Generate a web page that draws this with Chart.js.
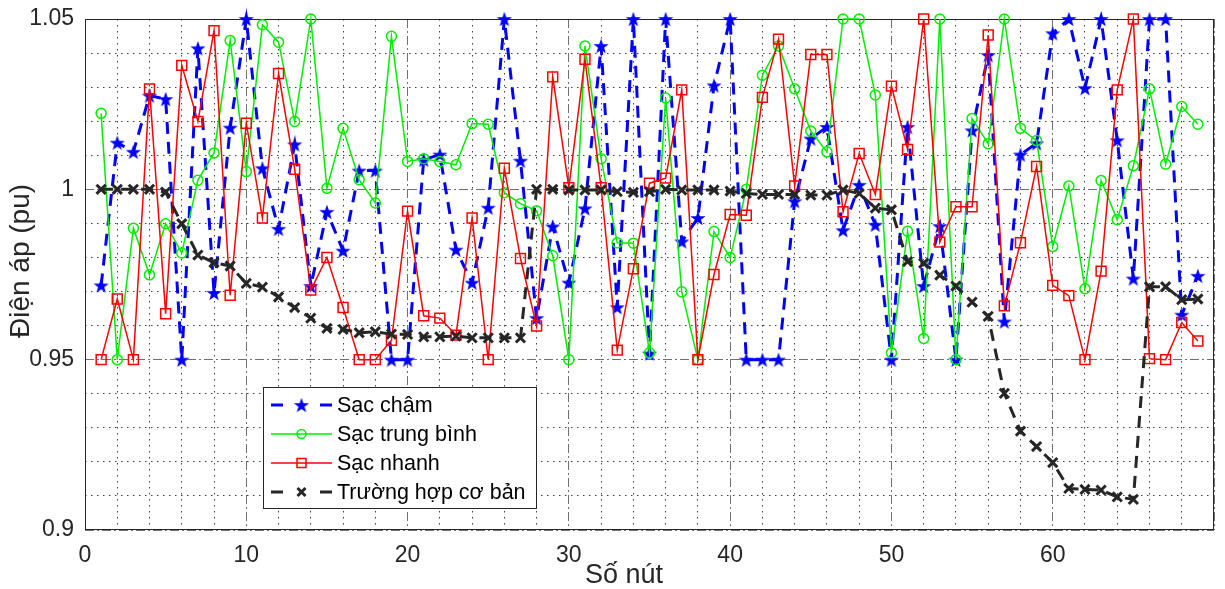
<!DOCTYPE html>
<html>
<head>
<meta charset="utf-8">
<script src="https://cdn.jsdelivr.net/npm/chart.js@4.4.1/dist/chart.umd.min.js"></script>
<style>
html,body{margin:0;padding:0;background:#fff;}
canvas{display:block;}
</style>
</head>
<body>
<canvas id="c" width="1225" height="589"></canvas>
<script>
// ---------- DATA ----------
const nodes = [1,2,3,4,5,6,7,8,9,10,11,12,13,14,15,16,17,18,19,20,21,22,23,24,25,26,27,28,29,30,31,32,33,34,35,36,37,38,39,40,41,42,43,44,45,46,47,48,49,50,51,52,53,54,55,56,57,58,59,60,61,62,63,64,65,66,67,68,69];

const sacCham = [0.9718,1.0137,1.0110,1.0275,1.0265,0.9500,1.0414,0.9696,1.0181,1.0500,
1.0062,0.9884,1.0132,0.9716,0.9934,0.9820,1.0055,1.0055,0.9500,0.9500,
1.0087,1.0102,0.9823,0.9726,0.9946,1.0500,1.0084,0.9622,0.9891,0.9726,
0.9944,1.0421,0.9654,1.0500,0.9518,1.0500,0.9847,0.9916,1.0305,1.0500,
0.9500,0.9500,0.9500,0.9965,1.0149,1.0183,0.9880,1.0013,0.9896,0.9500,
1.0183,0.9716,0.9892,0.9500,1.0173,1.0394,0.9612,1.0102,1.0135,1.0458,
1.0500,1.0297,1.0500,1.0144,0.9738,1.0500,1.0500,0.9632,0.9746];

const sacTrungBinh = [1.0223,0.9500,0.9886,0.9749,0.9899,0.9813,1.0027,1.0107,1.0437,1.0052,
1.0483,1.0432,1.0199,1.0500,1.0003,1.0179,1.0028,0.9960,1.0449,1.0082,
1.0090,1.0082,1.0072,1.0193,1.0191,0.9990,0.9958,0.9937,0.9805,0.9500,
1.0421,1.0090,0.9843,0.9842,0.9520,1.0268,0.9699,0.9500,0.9876,0.9800,
1.0000,1.0335,1.0421,1.0295,1.0171,1.0110,1.0500,1.0500,1.0277,0.9520,
0.9877,0.9562,1.0500,0.9500,1.0208,1.0134,1.0500,1.0179,1.0143,0.9832,
1.0010,0.9708,1.0026,0.9911,1.0069,1.0295,1.0074,1.0243,1.0191];

const sacNhanh = [0.9500,0.9678,0.9500,1.0295,0.9635,1.0364,1.0199,1.0466,0.9689,1.0194,
0.9916,1.0340,1.0059,0.9704,0.9800,0.9653,0.9500,0.9500,0.9557,0.9936,
0.9629,0.9622,0.9572,0.9916,0.9500,1.0062,0.9797,0.9599,1.0330,1.0005,
1.0382,1.0005,0.9528,0.9767,1.0018,1.0033,1.0292,0.9500,0.9750,0.9926,
0.9924,1.0270,1.0441,1.0010,1.0396,1.0396,0.9934,1.0105,0.9985,1.0303,
1.0117,1.0500,0.9845,0.9949,0.9949,1.0453,0.9658,0.9843,1.0067,0.9718,
0.9688,0.9500,0.9760,1.0292,1.0500,0.9503,0.9500,0.9609,0.9555];

const coBan = [1.0000,1.0000,1.0000,1.0000,0.9992,0.9899,0.9807,0.9785,0.9775,0.9724,
0.9713,0.9684,0.9653,0.9622,0.9592,0.9589,0.9579,0.9582,0.9575,0.9574,
0.9567,0.9567,0.9569,0.9564,0.9564,0.9564,0.9564,1.0000,1.0000,0.9998,
0.9998,0.9998,0.9993,0.9991,0.9993,1.0000,0.9998,0.9998,0.9998,0.9995,
0.9988,0.9985,0.9985,0.9985,0.9983,0.9983,0.9998,0.9988,0.9945,0.9940,
0.9788,0.9783,0.9748,0.9716,0.9669,0.9627,0.9401,0.9290,0.9245,0.9198,
0.9122,0.9119,0.9117,0.9097,0.9090,0.9714,0.9714,0.9676,0.9678];

const seriesNames = ["Sạc chậm","Sạc trung bình","Sạc nhanh","Trường hợp cơ bản"];
const xTickLabels = ["0","10","20","30","40","50","60"];
const yTickLabels = ["0.9","0.95","1","1.05"];
const xTitle = "Số nút";
const yTitle = "Điện áp (pu)";

// ---------- STYLE ----------
const FONT = "'Liberation Sans', Arial, Helvetica, sans-serif";
const TXT = '#262626';

function makeStar(r, color) {
  const s = Math.ceil(r * 2) + 2;
  const c = document.createElement('canvas');
  c.width = s; c.height = s;
  const g = c.getContext('2d');
  g.fillStyle = color;
  g.beginPath();
  for (let i = 0; i < 10; i++) {
    const rad = i % 2 === 0 ? r : r * 0.4;
    const a = -Math.PI / 2 + i * Math.PI / 5;
    const px = s / 2 + rad * Math.cos(a), py = s / 2 + rad * Math.sin(a) + 0.8;
    if (i === 0) g.moveTo(px, py); else g.lineTo(px, py);
  }
  g.closePath();
  g.fill();
  return c;
}
const starImg = makeStar(8, '#0000ff');

const toPts = arr => nodes.map((n, i) => ({x: n, y: arr[i]}));

const datasets = [
  {label: seriesNames[0], data: toPts(sacCham), borderColor: '#0000ff', backgroundColor: '#0000ff',
   borderWidth: 3, borderDash: [12, 8], pointStyle: starImg, pointRadius: 8, order: 3, clip: false},
  {label: seriesNames[1], data: toPts(sacTrungBinh), borderColor: '#00ee00', backgroundColor: 'rgba(0,0,0,0)',
   borderWidth: 1.5, pointStyle: 'circle', pointRadius: 5, pointBorderWidth: 1.5, order: 2, clip: false},
  {label: seriesNames[2], data: toPts(sacNhanh), borderColor: '#ff0000', backgroundColor: 'rgba(0,0,0,0)',
   borderWidth: 1.5, pointStyle: 'rect', pointRadius: 7, pointBorderWidth: 1.5, order: 1, clip: false},
  {label: seriesNames[3], data: toPts(coBan), borderColor: '#262626', backgroundColor: '#262626',
   borderWidth: 3, borderDash: [12, 8], pointStyle: 'crossRot', pointRadius: 6.5, pointBorderWidth: 3, order: 0, clip: false}
];

function isMajorX(v) { return Math.abs(v % 10) < 1e-6; }
function isMajorY(v) { return Math.round(v * 100) % 5 === 0; }
function noPad(s) { s.paddingTop = 0; s.paddingBottom = 0; s.paddingLeft = 0; s.paddingRight = 0; }

const frame = {
  id: 'frame',
  beforeDatasetsDraw(chart) {
    const ctx = chart.ctx;
    const a = chart.chartArea;
    ctx.save();
    ctx.strokeStyle = '#262626';
    ctx.lineWidth = 1;
    ctx.setLineDash([]);
    ctx.strokeRect(Math.round(a.left) + 0.5, Math.round(a.top) + 0.5,
                   Math.round(a.right - a.left) - 1, Math.round(a.bottom - a.top) - 1);
    ctx.restore();
  }
};

const decor = {
  id: 'decor',
  afterDraw(chart) {
    const ctx = chart.ctx;
    ctx.save();
    // legend box
    const bx = 263.5, by = 387.5, bw = 273, bh = 121;
    ctx.fillStyle = '#fff';
    ctx.fillRect(bx, by, bw, bh);
    ctx.strokeStyle = '#262626';
    ctx.lineWidth = 1;
    ctx.setLineDash([]);
    ctx.strokeRect(bx, by, bw, bh);
    const rows = [405, 434, 463, 492];
    const x0 = 271, x1 = 332, xm = 301.5;
    datasets.forEach((d, i) => {
      const y = rows[i];
      ctx.strokeStyle = d.borderColor;
      ctx.lineWidth = d.borderWidth;
      ctx.setLineDash([]);
      ctx.beginPath();
      if (d.borderDash) {
        ctx.moveTo(x0, y); ctx.lineTo(x0 + 12, y);
        ctx.moveTo(x1 - 12, y); ctx.lineTo(x1, y);
      } else {
        ctx.moveTo(x0, y); ctx.lineTo(x1, y);
      }
      ctx.stroke();
      if (i === 0) {
        ctx.drawImage(starImg, xm - starImg.width / 2, y - starImg.height / 2);
      } else if (i === 1) {
        ctx.lineWidth = 1.5;
        ctx.beginPath(); ctx.arc(xm, y, 4.5, 0, Math.PI * 2); ctx.stroke();
      } else if (i === 2) {
        ctx.lineWidth = 1.5;
        ctx.strokeRect(xm - 4.5, y - 4.5, 9, 9);
      } else {
        ctx.lineWidth = 3;
        ctx.beginPath();
        ctx.moveTo(xm - 4, y - 4); ctx.lineTo(xm + 4, y + 4);
        ctx.moveTo(xm + 4, y - 4); ctx.lineTo(xm - 4, y + 4);
        ctx.stroke();
      }
      ctx.fillStyle = '#000';
      ctx.font = '21.5px ' + FONT;
      ctx.textAlign = 'left';
      ctx.textBaseline = 'middle';
      ctx.fillText(d.label, 337, y + 1);
    });
    // axis titles
    ctx.fillStyle = TXT;
    ctx.font = '27px ' + FONT;
    ctx.textAlign = 'center';
    ctx.textBaseline = 'middle';
    ctx.fillText(xTitle, 624, 576);
    ctx.save();
    ctx.translate(21, 261);
    ctx.rotate(-Math.PI / 2);
    ctx.font = '28px ' + FONT;
    ctx.fillText(yTitle, 0, 0);
    ctx.restore();
    ctx.restore();
  }
};

new Chart(document.getElementById('c'), {
  type: 'line',
  data: {datasets},
  options: {
    responsive: false,
    animation: false,
    devicePixelRatio: 1,
    layout: {padding: {top: 19, right: 7, left: 0, bottom: 0}},
    plugins: {legend: {display: false}, tooltip: {enabled: false}},
    elements: {line: {tension: 0}},
    scales: {
      x: {
        type: 'linear', position: 'bottom', min: 0, max: 70,
        afterFit: s => { s.height = 59; noPad(s); },
        ticks: {
          stepSize: 2, autoSkip: false, maxRotation: 0, maxTicksLimit: 100, padding: 12,
          color: TXT, font: {size: 23, family: FONT},
          callback: v => {
            if (!isMajorX(v)) return '';
            const lbl = String(Math.round(v));
            return xTickLabels.includes(lbl) ? lbl : '';
          }
        },
        grid: {
          drawTicks: false, lineWidth: 1,
          color: c => (c.tick && isMajorX(c.tick.value)) ? '#707070' : '#404040'
        },
        border: {
          display: false,
          dash: c => (c.tick && isMajorX(c.tick.value)) ? [9, 3, 2, 3] : [1.5, 4.5]
        }
      },
      y: {
        type: 'linear', min: 0.9, max: 1.05,
        afterFit: s => { s.width = 85; noPad(s); },
        ticks: {
          stepSize: 0.01, autoSkip: false, maxTicksLimit: 100, padding: 11,
          color: TXT, font: {size: 23, family: FONT},
          callback: v => {
            if (!isMajorY(v)) return '';
            const lbl = String(Math.round(v * 100) / 100);
            return yTickLabels.includes(lbl) ? lbl : '';
          }
        },
        grid: {
          drawTicks: false, lineWidth: 1,
          color: c => (c.tick && isMajorY(c.tick.value)) ? '#707070' : '#404040'
        },
        border: {
          display: false,
          dash: c => (c.tick && isMajorY(c.tick.value)) ? [9, 3, 2, 3] : [1.5, 4.5]
        }
      }
    }
  },
  plugins: [frame, decor]
});
</script>
</body>
</html>
